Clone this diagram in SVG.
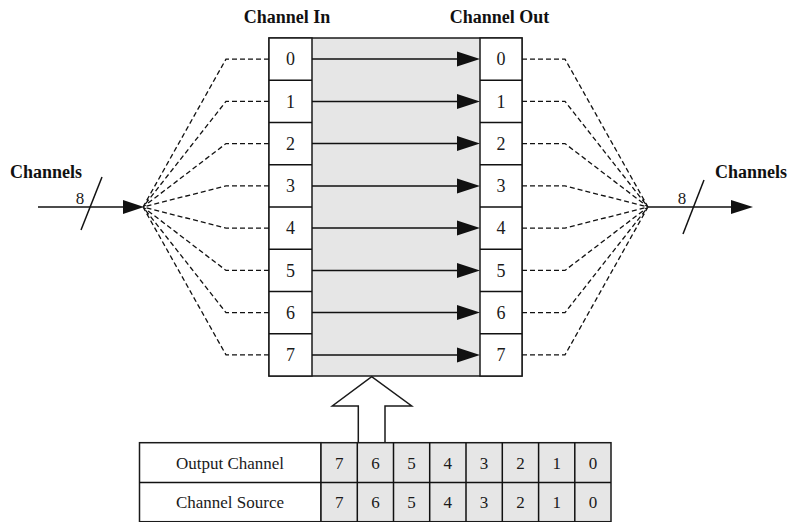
<svg xmlns="http://www.w3.org/2000/svg" width="791" height="522" viewBox="0 0 791 522">
  <style>
    .box { fill: #ffffff; stroke: #1a1a1a; stroke-width: 1.5; }
    .shade { fill: #e6e6e6; stroke: #1a1a1a; stroke-width: 1.5; }
    .num { font-family: "Liberation Serif", "Times New Roman", serif; font-size: 17px; fill: #1a1a1a; text-anchor: middle; }
    .big { font-size: 18px; }
    .title { font-family: "Liberation Serif", "Times New Roman", serif; font-size: 18px; font-weight: bold; fill: #111; }
    .dash { fill: none; stroke: #111; stroke-width: 1.3; stroke-dasharray: 5 3; }
    .wire { fill: none; stroke: #111; stroke-width: 1.5; }
    .head { fill: #111; stroke: none; }
  </style>

  <!-- labels -->
  <text class="title" x="287" y="23" text-anchor="middle">Channel In</text>
  <text class="title" x="499.5" y="23" text-anchor="middle">Channel Out</text>
  <text class="title" x="10" y="178">Channels</text>
  <text class="title" x="715" y="178">Channels</text>

  <!-- switch body -->
  <g id="switch">
    <rect class="shade" x="269" y="38" width="253" height="338"/>
    <g id="channel-in">
      <rect class="box" x="269" y="38" width="43" height="338"/>
      <path class="wire" d="M269 80.25H312M269 122.5H312M269 164.75H312M269 207H312M269 249.25H312M269 291.5H312M269 333.75H312"/>
      <text class="num big" x="290.5" y="65.3">0</text>
      <text class="num big" x="290.5" y="107.6">1</text>
      <text class="num big" x="290.5" y="149.8">2</text>
      <text class="num big" x="290.5" y="192.1">3</text>
      <text class="num big" x="290.5" y="234.3">4</text>
      <text class="num big" x="290.5" y="276.6">5</text>
      <text class="num big" x="290.5" y="318.8">6</text>
      <text class="num big" x="290.5" y="361.1">7</text>
    </g>
    <g id="channel-out">
      <rect class="box" x="480" y="38" width="42" height="338"/>
      <path class="wire" d="M480 80.25H522M480 122.5H522M480 164.75H522M480 207H522M480 249.25H522M480 291.5H522M480 333.75H522"/>
      <text class="num big" x="501" y="65.3">0</text>
      <text class="num big" x="501" y="107.6">1</text>
      <text class="num big" x="501" y="149.8">2</text>
      <text class="num big" x="501" y="192.1">3</text>
      <text class="num big" x="501" y="234.3">4</text>
      <text class="num big" x="501" y="276.6">5</text>
      <text class="num big" x="501" y="318.8">6</text>
      <text class="num big" x="501" y="361.1">7</text>
    </g>
  </g>

  <!-- connectors -->
  <g id="connectors">
    <!-- fan-in from the bus -->
    <path class="dash" d="M269 59.1H226L143 207M269 101.4H226L143 207M269 143.6H226L143 207M269 185.9H226L143 207M269 228.1H226L143 207M269 270.4H226L143 207M269 312.6H226L143 207M269 354.9H226L143 207"/>
    <!-- fan-out to the bus -->
    <path class="dash" d="M522 59.1H565L648 207M522 101.4H565L648 207M522 143.6H565L648 207M522 185.9H565L648 207M522 228.1H565L648 207M522 270.4H565L648 207M522 312.6H565L648 207M522 354.9H565L648 207"/>

    <!-- routed channels -->
    <g id="routes">
      <path class="wire" d="M312 59.1H458M312 101.4H458M312 143.6H458M312 185.9H458M312 228.1H458M312 270.4H458M312 312.6H458M312 354.9H458"/>
      <path class="head" d="M457 51.6L480 59.1L457 66.6Z"/>
      <path class="head" d="M457 93.9L480 101.4L457 108.9Z"/>
      <path class="head" d="M457 136.1L480 143.6L457 151.1Z"/>
      <path class="head" d="M457 178.4L480 185.9L457 193.4Z"/>
      <path class="head" d="M457 220.6L480 228.1L457 235.6Z"/>
      <path class="head" d="M457 262.9L480 270.4L457 277.9Z"/>
      <path class="head" d="M457 305.1L480 312.6L457 320.1Z"/>
      <path class="head" d="M457 347.4L480 354.9L457 362.4Z"/>
    </g>

    <!-- input bus -->
    <g id="bus-in">
      <path class="wire" d="M38 207H124"/>
      <path class="head" d="M123 200L144 207L123 214Z"/>
      <path class="wire" d="M81 230L102 177"/>
      <text class="num" x="80" y="204">8</text>
    </g>

    <!-- output bus -->
    <g id="bus-out">
      <path class="wire" d="M648 207H732"/>
      <path class="head" d="M731 200L753 207L731 214Z"/>
      <path class="wire" d="M683 234L704 180"/>
      <text class="num" x="682" y="204">8</text>
    </g>

    <!-- control arrow -->
    <path id="ctrl-arrow" class="box" d="M358.3 442.7V406H332.3L371.7 376.7L411.7 406H385V442.7"/>
  </g>

  <!-- control register -->
  <g id="register">
    <rect class="box" x="139.5" y="442.7" width="181.5" height="79"/>
    <rect class="shade" x="321" y="442.7" width="290" height="79"/>
    <path class="wire" d="M139.5 482.5H611M357.3 442.7V521.7M393.5 442.7V521.7M429.7 442.7V521.7M466 442.7V521.7M502.3 442.7V521.7M538.6 442.7V521.7M574.8 442.7V521.7"/>
    <text class="num" x="230" y="468.5">Output Channel</text>
    <text class="num" x="230" y="508">Channel Source</text>
    <g id="out-row">
      <text class="num" x="339.2" y="468.5">7</text>
      <text class="num" x="375.4" y="468.5">6</text>
      <text class="num" x="411.6" y="468.5">5</text>
      <text class="num" x="447.8" y="468.5">4</text>
      <text class="num" x="484.1" y="468.5">3</text>
      <text class="num" x="520.4" y="468.5">2</text>
      <text class="num" x="556.7" y="468.5">1</text>
      <text class="num" x="592.9" y="468.5">0</text>
    </g>
    <g id="src-row">
      <text class="num" x="339.2" y="508">7</text>
      <text class="num" x="375.4" y="508">6</text>
      <text class="num" x="411.6" y="508">5</text>
      <text class="num" x="447.8" y="508">4</text>
      <text class="num" x="484.1" y="508">3</text>
      <text class="num" x="520.4" y="508">2</text>
      <text class="num" x="556.7" y="508">1</text>
      <text class="num" x="592.9" y="508">0</text>
    </g>
  </g>
</svg>
